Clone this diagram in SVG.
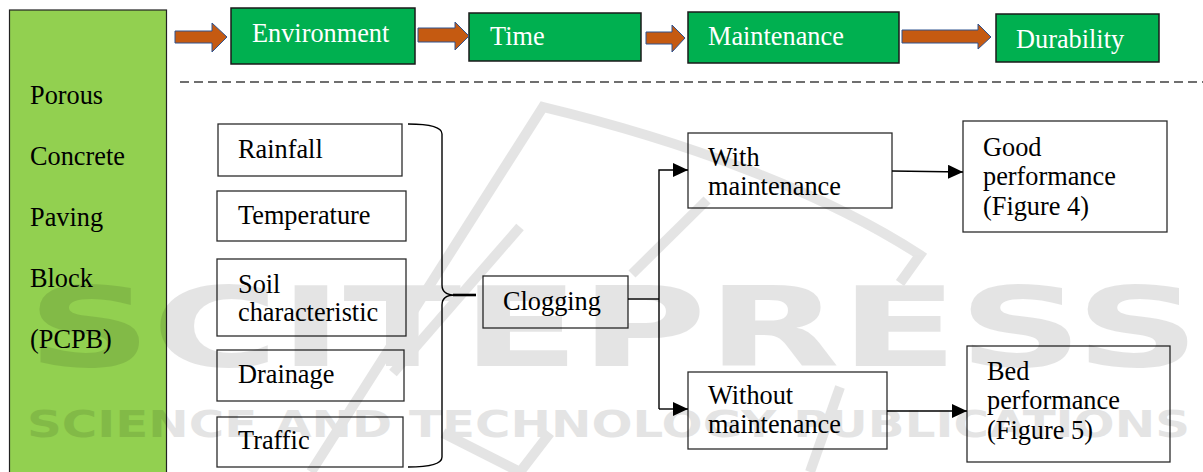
<svg xmlns="http://www.w3.org/2000/svg" width="1203" height="472" viewBox="0 0 1203 472">
  <defs>
    <style>
      .t { font-family: "Liberation Serif", "Times New Roman", serif; font-size: 26.3px; fill: #000; }
      .tw { font-family: "Liberation Serif", "Times New Roman", serif; font-size: 26.3px; fill: #fff; }
      .stage { fill: #00B050; stroke: #1a1a1a; stroke-width: 1.5; }
      .box { fill: #fff; stroke: #2b2b2b; stroke-width: 1.3; }
      .flow { fill: #C55A11; stroke: #2F528F; stroke-width: 1; }
      .link { fill: none; stroke: #000; stroke-width: 1.4; }
      .wm { font-family: "DejaVu Sans", sans-serif; font-weight: bold; fill: #000; }
      .wml { fill: none; stroke: #000; stroke-width: 10; }
    </style>
    <marker id="head" markerUnits="userSpaceOnUse" markerWidth="16" markerHeight="14" refX="15" refY="7" orient="auto">
      <path d="M0,0 L15,7 L0,14 Z" fill="#000"/>
    </marker>
  </defs>

  <rect width="1203" height="472" fill="#fff"/>

  <!-- left panel -->
  <g id="pcpb">
    <rect x="9.5" y="10" width="157" height="470" fill="#92D050" stroke="#222" stroke-width="1.2"/>
    <text class="t" x="30" y="104">Porous</text>
    <text class="t" x="30" y="165">Concrete</text>
    <text class="t" x="30" y="226">Paving</text>
    <text class="t" x="30" y="287">Block</text>
    <text class="t" x="30" y="348">(PCPB)</text>
  </g>

  <!-- stage sequence -->
  <g id="stage-environment">
    <rect class="stage" x="231" y="8" width="184" height="56"/>
    <text class="tw" x="252" y="42">Environment</text>
  </g>
  <g id="stage-time">
    <rect class="stage" x="469" y="13" width="172" height="48"/>
    <text class="tw" x="490" y="45">Time</text>
  </g>
  <g id="stage-maintenance">
    <rect class="stage" x="688" y="12" width="211" height="51"/>
    <text class="tw" x="708" y="45">Maintenance</text>
  </g>
  <g id="stage-durability">
    <rect class="stage" x="996" y="14" width="163" height="48"/>
    <text class="tw" x="1016" y="48">Durability</text>
  </g>

  <g id="flow-arrows">
    <path class="flow" d="M175,31 H212 V23 L227,37 L212,52 V43 H175 Z"/>
    <path class="flow" d="M418,28 H455 V22 L469,36 L455,50 V42 H418 Z"/>
    <path class="flow" d="M646,32 H672 V25 L685,38 L672,52 V44 H646 Z"/>
    <path class="flow" d="M902,30 H978 V24 L991,37 L978,49 V43 H902 Z"/>
  </g>

  <!-- separator -->
  <line x1="180" y1="82" x2="1203" y2="82" stroke="#404040" stroke-width="1.5" stroke-dasharray="9,5"/>

  <!-- factors -->
  <g id="rainfall">
    <rect class="box" x="218" y="124" width="184" height="52"/>
    <text class="t" x="238" y="158">Rainfall</text>
  </g>
  <g id="temperature">
    <rect class="box" x="217" y="191" width="189" height="50"/>
    <text class="t" x="238" y="224">Temperature</text>
  </g>
  <g id="soil">
    <rect class="box" x="217" y="259" width="189" height="77"/>
    <text class="t" x="238" y="293">Soil</text>
    <text class="t" x="238" y="321">characteristic</text>
  </g>
  <g id="drainage">
    <rect class="box" x="217" y="350" width="187" height="51"/>
    <text class="t" x="238" y="383">Drainage</text>
  </g>
  <g id="traffic">
    <rect class="box" x="217" y="417" width="186" height="50"/>
    <text class="t" x="238" y="449">Traffic</text>
  </g>

  <g id="clogging">
    <rect class="box" x="483" y="276" width="145" height="52"/>
    <text class="t" x="503" y="310">Clogging</text>
  </g>

  <g id="with-maintenance">
    <rect class="box" x="688" y="133" width="204" height="75"/>
    <text class="t" x="708" y="166">With</text>
    <text class="t" x="708" y="195">maintenance</text>
  </g>
  <g id="without-maintenance">
    <rect class="box" x="688" y="372" width="199" height="77"/>
    <text class="t" x="708" y="404">Without</text>
    <text class="t" x="708" y="433">maintenance</text>
  </g>

  <g id="good-performance">
    <rect class="box" x="963" y="121" width="204" height="111"/>
    <text class="t" x="983" y="156">Good</text>
    <text class="t" x="983" y="185">performance</text>
    <text class="t" x="983" y="215">(Figure 4)</text>
  </g>
  <g id="bed-performance">
    <rect class="box" x="967" y="346" width="203" height="116"/>
    <text class="t" x="987" y="380">Bed</text>
    <text class="t" x="987" y="409">performance</text>
    <text class="t" x="987" y="439">(Figure 5)</text>
  </g>

  <!-- connectors -->
  <g id="connectors">
    <path class="link" stroke-width="1.6" d="M408,124 Q442,124 442,134 V285 Q442,295 455,295 M455,295 Q442,295 442,305 V457 Q442,467 408,467"/>
    <line x1="453" y1="295" x2="476" y2="295" stroke="#000" stroke-width="2.6"/>
    <path class="link" d="M628,299 H659"/>
    <path class="link" d="M659,409 V170 H688" marker-end="url(#head)"/>
    <path class="link" d="M659,409 H688" marker-end="url(#head)"/>
    <path class="link" d="M892,171 L963,172" marker-end="url(#head)"/>
    <path class="link" d="M887,411 H967" marker-end="url(#head)"/>
  </g>

  <!-- publisher watermark -->
  <g opacity="0.1">
    <path class="wml" d="M311,472 L543,107 C680,140 820,190 920,255 L900,283"/>
    <path class="wml" d="M393,373 L520,227"/>
    <path class="wml" d="M707,200 L632,274"/>
    <path class="wml" d="M443,433 L520,472 L550,433"/>
    <path class="wml" d="M840,387 L810,472"/>
    <text class="wm" x="27" y="366" font-size="110" textLength="1173" lengthAdjust="spacingAndGlyphs">SCITEPRESS</text>
    <text class="wm" x="27" y="437" font-size="37" textLength="1163" lengthAdjust="spacingAndGlyphs">SCIENCE AND TECHNOLOGY PUBLICATIONS</text>
  </g>
</svg>
